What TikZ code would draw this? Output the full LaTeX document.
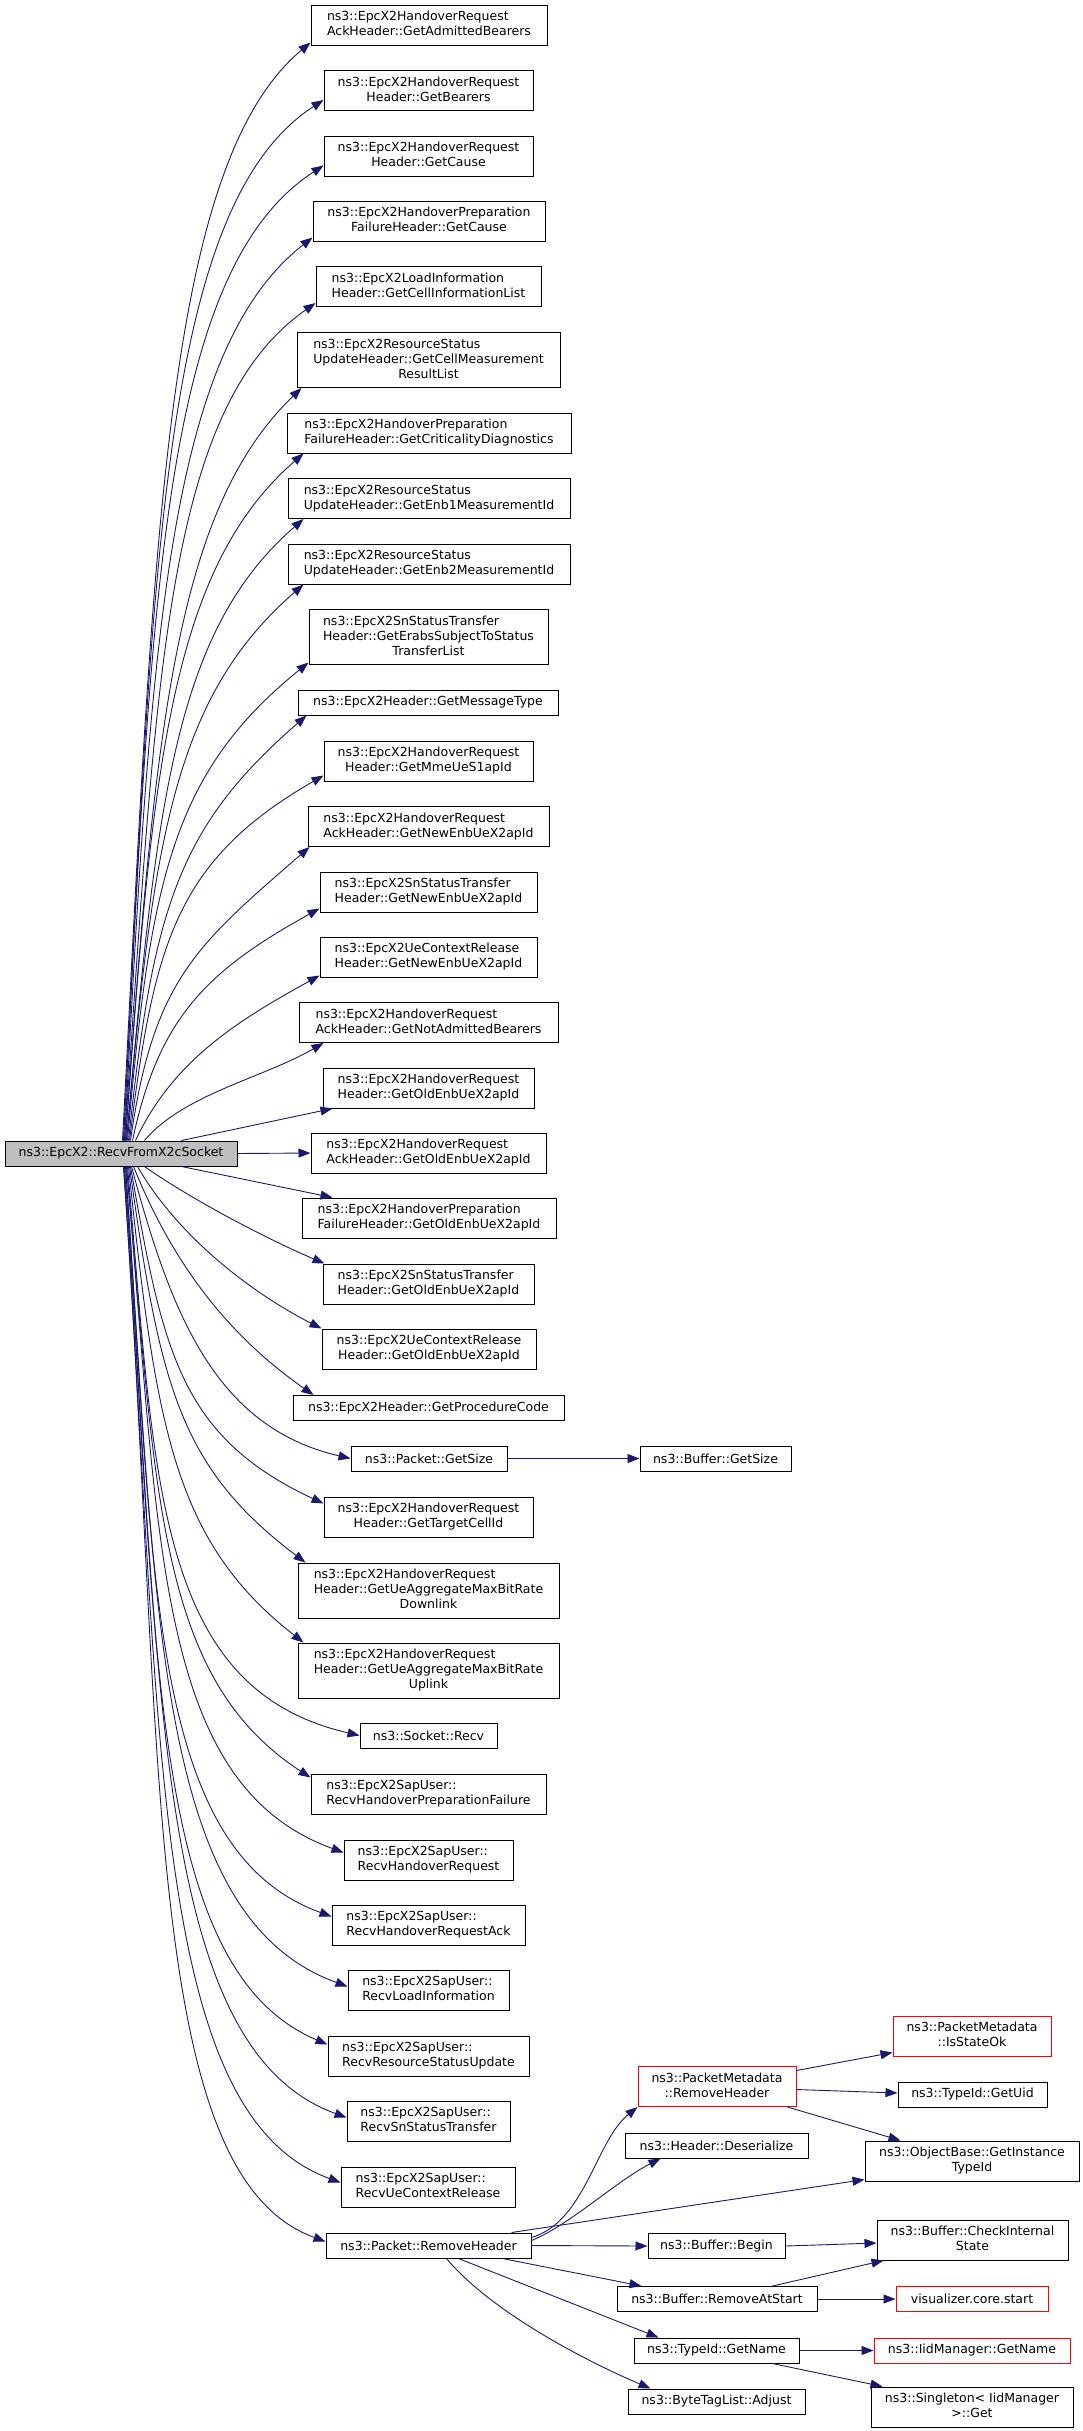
\documentclass[tikz,border=0pt]{standalone}
\usepackage{fontspec}
\usetikzlibrary{arrows.meta}
\newfontfamily\dejavu{DejaVu Sans}
\definecolor{edgeblue}{HTML}{191970}
\definecolor{mainfill}{HTML}{BFBFBF}
\newcommand\twol[2]{\begin{tabular}{@{}l@{}}#1\\\multicolumn{1}{@{}c@{}}{#2}\end{tabular}}
\newcommand\threel[3]{\begin{tabular}{@{}l@{}}#1\\#2\\\multicolumn{1}{@{}c@{}}{#3}\end{tabular}}
\newcommand\bx[6]{\node[#1, minimum width=#2pt, minimum height=#3pt] (#4) at (#5) {#6};}
\newcommand\cedge[6]{\draw[edge] (#1) .. controls +(#2:#3) and +(#4:#5) .. (#6);}
\tikzset{
  box/.style={draw=black, fill=white, line width=1pt, inner sep=0pt, text=black,
    font=\dejavu\fontsize{12.5}{15}\selectfont},
  rbox/.style={box, draw=red},
  mbox/.style={box, fill=mainfill},
  edge/.style={draw=edgeblue, line width=0.9pt, -{Triangle[length=12pt,width=9pt]}},
}
\begin{document}
\begin{tikzpicture}[x=1pt,y=1pt]
\useasboundingbox (0,0) rectangle (1083,-2431);
% main node
\bx{mbox}{232}{25}{main}{121,-1153.5}{ns3::EpcX2::RecvFromX2cSocket}
% first level
\bx{box}{236}{40}{n1}{429,-25}{\twol{ns3::EpcX2HandoverRequest}{AckHeader::GetAdmittedBearers}}
\bx{box}{209}{40}{n2}{428.5,-90.5}{\twol{ns3::EpcX2HandoverRequest}{Header::GetBearers}}
\bx{box}{209}{40}{n3}{428.5,-156}{\twol{ns3::EpcX2HandoverRequest}{Header::GetCause}}
\bx{box}{232}{40}{n4}{429,-221}{\twol{ns3::EpcX2HandoverPreparation}{FailureHeader::GetCause}}
\bx{box}{225}{40}{n5}{428.5,-286.5}{\twol{ns3::EpcX2LoadInformation}{Header::GetCellInformationList}}
\bx{box}{263}{55}{n6}{428.5,-360}{\threel{ns3::EpcX2ResourceStatus}{UpdateHeader::GetCellMeasurement}{ResultList}}
\bx{box}{284}{40}{n7}{429,-433}{\twol{ns3::EpcX2HandoverPreparation}{FailureHeader::GetCriticalityDiagnostics}}
\bx{box}{282}{40}{n8}{429,-498.5}{\twol{ns3::EpcX2ResourceStatus}{UpdateHeader::GetEnb1MeasurementId}}
\bx{box}{282}{40}{n9}{429,-564}{\twol{ns3::EpcX2ResourceStatus}{UpdateHeader::GetEnb2MeasurementId}}
\bx{box}{239}{55}{n10}{428.5,-637}{\threel{ns3::EpcX2SnStatusTransfer}{Header::GetErabsSubjectToStatus}{TransferList}}
\bx{box}{260}{25}{n11}{428,-702.5}{ns3::EpcX2Header::GetMessageType}
\bx{box}{209}{40}{n12}{428.5,-761}{\twol{ns3::EpcX2HandoverRequest}{Header::GetMmeUeS1apId}}
\bx{box}{241}{40}{n13}{428.5,-826.5}{\twol{ns3::EpcX2HandoverRequest}{AckHeader::GetNewEnbUeX2apId}}
\bx{box}{217}{40}{n14}{428.5,-892}{\twol{ns3::EpcX2SnStatusTransfer}{Header::GetNewEnbUeX2apId}}
\bx{box}{217}{40}{n15}{428.5,-957}{\twol{ns3::EpcX2UeContextRelease}{Header::GetNewEnbUeX2apId}}
\bx{box}{259}{40}{n16}{428.5,-1022.5}{\twol{ns3::EpcX2HandoverRequest}{AckHeader::GetNotAdmittedBearers}}
\bx{box}{211}{40}{n17}{428.5,-1088}{\twol{ns3::EpcX2HandoverRequest}{Header::GetOldEnbUeX2apId}}
\bx{box}{235}{40}{n18}{428.5,-1153}{\twol{ns3::EpcX2HandoverRequest}{AckHeader::GetOldEnbUeX2apId}}
\bx{box}{254}{40}{n19}{429,-1218}{\twol{ns3::EpcX2HandoverPreparation}{FailureHeader::GetOldEnbUeX2apId}}
\bx{box}{211}{40}{n20}{428.5,-1284}{\twol{ns3::EpcX2SnStatusTransfer}{Header::GetOldEnbUeX2apId}}
\bx{box}{214}{40}{n21}{429,-1349}{\twol{ns3::EpcX2UeContextRelease}{Header::GetOldEnbUeX2apId}}
\bx{box}{271}{25}{n22}{428.5,-1408}{ns3::EpcX2Header::GetProcedureCode}
\bx{box}{156}{25}{n23}{429,-1458.5}{ns3::Packet::GetSize}
\bx{box}{209}{40}{n24}{428.5,-1517}{\twol{ns3::EpcX2HandoverRequest}{Header::GetTargetCellId}}
\bx{box}{261}{55}{n25}{428.5,-1590.5}{\threel{ns3::EpcX2HandoverRequest}{Header::GetUeAggregateMaxBitRate}{Downlink}}
\bx{box}{261}{55}{n26}{428.5,-1670.5}{\threel{ns3::EpcX2HandoverRequest}{Header::GetUeAggregateMaxBitRate}{Uplink}}
\bx{box}{137}{25}{n27}{428.5,-1735.5}{ns3::Socket::Recv}
\bx{box}{235}{40}{n28}{428.5,-1794}{\twol{ns3::EpcX2SapUser::}{RecvHandoverPreparationFailure}}
\bx{box}{169}{40}{n29}{428.5,-1860}{\twol{ns3::EpcX2SapUser::}{RecvHandoverRequest}}
\bx{box}{193}{40}{n30}{428.5,-1925}{\twol{ns3::EpcX2SapUser::}{RecvHandoverRequestAck}}
\bx{box}{161}{40}{n31}{428.5,-1990}{\twol{ns3::EpcX2SapUser::}{RecvLoadInformation}}
\bx{box}{201}{40}{n32}{428.5,-2056}{\twol{ns3::EpcX2SapUser::}{RecvResourceStatusUpdate}}
\bx{box}{163}{40}{n33}{428.5,-2121}{\twol{ns3::EpcX2SapUser::}{RecvSnStatusTransfer}}
\bx{box}{174}{40}{n34}{428,-2187}{\twol{ns3::EpcX2SapUser::}{RecvUeContextRelease}}
\bx{box}{205}{25}{n35}{428.5,-2245.5}{ns3::Packet::RemoveHeader}
% third column
\bx{box}{151}{25}{bgs}{715.5,-1458.5}{ns3::Buffer::GetSize}
\bx{rbox}{158}{40}{pmrh}{717,-2086.5}{\twol{ns3::PacketMetadata}{::RemoveHeader}}
\bx{box}{183}{25}{des}{716.5,-2145.5}{ns3::Header::Deserialize}
\bx{box}{137}{25}{beg}{716.5,-2246}{ns3::Buffer::Begin}
\bx{box}{200}{25}{ras}{717,-2299}{ns3::Buffer::RemoveAtStart}
\bx{box}{165}{25}{tgn}{716.5,-2350.5}{ns3::TypeId::GetName}
\bx{box}{177}{25}{adj}{716.5,-2401.5}{ns3::ByteTagList::Adjust}
% fourth column
\bx{rbox}{158}{40}{iso}{972,-2036}{\twol{ns3::PacketMetadata}{::IsStateOk}}
\bx{box}{149}{25}{uid}{972.5,-2094.5}{ns3::TypeId::GetUid}
\bx{box}{214}{40}{ob}{972,-2161}{\twol{ns3::ObjectBase::GetInstance}{TypeId}}
\bx{box}{191}{40}{ci}{972.5,-2240}{\twol{ns3::Buffer::CheckInternal}{State}}
\bx{rbox}{152}{25}{vis}{972,-2299}{visualizer.core.start}
\bx{rbox}{196}{25}{iid}{972,-2350.5}{ns3::IidManager::GetName}
\bx{box}{202}{40}{sg}{972,-2407}{\twol{ns3::Singleton< IidManager}{>::Get}}
% edges: upper
\cedge{[xshift=118pt]main.north west}{87}{605}{220}{190}{[yshift=3pt]n1.south west}
\cedge{[xshift=119pt]main.north west}{87}{573}{213}{195}{[yshift=11pt]n2.south west}
\cedge{[xshift=119pt]main.north west}{87}{537}{213}{195}{[yshift=11pt]n3.south west}
\cedge{[xshift=120pt]main.north west}{87}{497}{218}{185}{[yshift=4pt]n4.south west}
\cedge{[xshift=120pt]main.north west}{86}{461}{215}{185}{[yshift=4pt]n5.south west}
\cedge{[xshift=121pt]main.north west}{86}{415}{224}{175}{[xshift=5pt]n6.south west}
\cedge{[xshift=121pt]main.north west}{86}{378}{221}{175}{[xshift=17pt]n7.south west}
\cedge{[xshift=122pt]main.north west}{85}{343}{221}{170}{[xshift=16pt]n8.south west}
\cedge{[xshift=122pt]main.north west}{85}{306}{221}{170}{[xshift=16pt]n9.south west}
\cedge{[xshift=123pt]main.north west}{85}{263}{219}{175}{[yshift=2.5pt]n10.south west}
\cedge{[xshift=124pt]main.north west}{84}{234}{221}{170}{[xshift=9pt]n11.south west}
\cedge{[xshift=125pt]main.north west}{83}{200}{210}{170}{[yshift=6pt]n12.south west}
\cedge{[xshift=126pt]main.north west}{82}{162}{221}{150}{[xshift=2pt]n13.south west}
\cedge{[xshift=128pt]main.north west}{78}{125}{209}{130}{[yshift=4pt]n14.south west}
\cedge{[xshift=131pt]main.north west}{65}{90}{209}{90}{[yshift=2pt]n15.south west}
\cedge{[xshift=140pt]main.north west}{50}{60}{210}{70}{[xshift=25pt]n16.south west}
\draw[edge] ([xshift=177pt]main.north west) -- ([xshift=10pt]n17.south west);
\draw[edge] (main.east) -- (n18.west);
% edges: lower
\draw[edge] ([xshift=177pt]main.south west) -- ([xshift=31pt]n19.north west);
\cedge{[xshift=140pt]main.south west}{-35}{60}{157}{60}{[xshift=2pt]n20.north west}
\cedge{[xshift=133pt]main.south west}{-60}{80}{153}{80}{n21.north west}
\cedge{[xshift=129pt]main.south west}{-68}{110}{145}{100}{[xshift=21pt]n22.north west}
\cedge{[xshift=127pt]main.south west}{-75}{150}{167}{140}{n23.west}
\cedge{[xshift=126pt]main.south west}{-80}{185}{155}{160}{[yshift=-7pt]n24.north west}
\cedge{[xshift=125pt]main.south west}{-82}{218}{143}{160}{[xshift=8pt]n25.north west}
\cedge{[xshift=124pt]main.south west}{-84}{262}{142}{165}{[xshift=6pt]n26.north west}
\cedge{[xshift=123pt]main.south west}{-85}{314}{167}{210}{n27.west}
\cedge{[xshift=122pt]main.south west}{-85}{337}{147}{180}{[yshift=-4pt]n28.north west}
\cedge{[xshift=122pt]main.south west}{-85}{378}{160}{200}{[yshift=-13pt]n29.north west}
\cedge{[xshift=121pt]main.south west}{-86}{413}{160}{195}{[yshift=-12pt]n30.north west}
\cedge{[xshift=121pt]main.south west}{-86}{452}{160}{205}{[yshift=-17pt]n31.north west}
\cedge{[xshift=120pt]main.south west}{-86}{483}{157}{195}{[yshift=-9pt]n32.north west}
\cedge{[xshift=120pt]main.south west}{-86}{524}{160}{205}{[yshift=-17pt]n33.north west}
\cedge{[xshift=119pt]main.south west}{-86}{560}{160}{205}{[yshift=-16pt]n34.north west}
\cedge{[xshift=119pt]main.south west}{-86}{592}{160}{195}{[yshift=-9pt]n35.north west}
% second level edges
\draw[edge] (n23.east) -- (bgs.west);
\draw[edge] ([yshift=-5pt]n35.north east) .. controls +(54,16) and +(-42,-34) .. (pmrh.south west);
\draw[edge] ([yshift=-8pt]n35.north east) .. controls +(39,16) and +(-45,-23) .. ([xshift=36pt]des.south west);
\draw[edge] ([xshift=-20pt]n35.north east) -- ([yshift=2pt]ob.south west);
\draw[edge] (n35.east) -- (beg.west);
\draw[edge] ([xshift=-29pt]n35.south east) -- ([xshift=25pt]ras.north west);
\draw[edge] ([xshift=-73pt]n35.south east) -- ([xshift=25pt]tgn.north west);
\draw[edge] ([xshift=-85pt]n35.south east) .. controls +(-50:70) and +(157:70) .. ([xshift=23pt]adj.north west);
% third level edges
\draw[edge] ([yshift=-4.5pt]pmrh.north east) -- ([yshift=4pt]iso.south west);
\draw[edge] ([yshift=-3pt]pmrh.east) -- ([yshift=1.5pt]uid.west);
\draw[edge] ([xshift=-9pt]pmrh.south east) -- ([xshift=36pt]ob.north west);
\draw[edge] (beg.east) -- ([yshift=-3pt]ci.west);
\draw[edge] ([xshift=-45pt]ras.north east) -- ([xshift=7pt]ci.south west);
\draw[edge] (ras.east) -- (vis.west);
\draw[edge] (tgn.east) -- (iid.west);
\draw[edge] ([xshift=-27pt]tgn.south east) -- ([xshift=12pt]sg.north west);
\end{tikzpicture}
\end{document}
